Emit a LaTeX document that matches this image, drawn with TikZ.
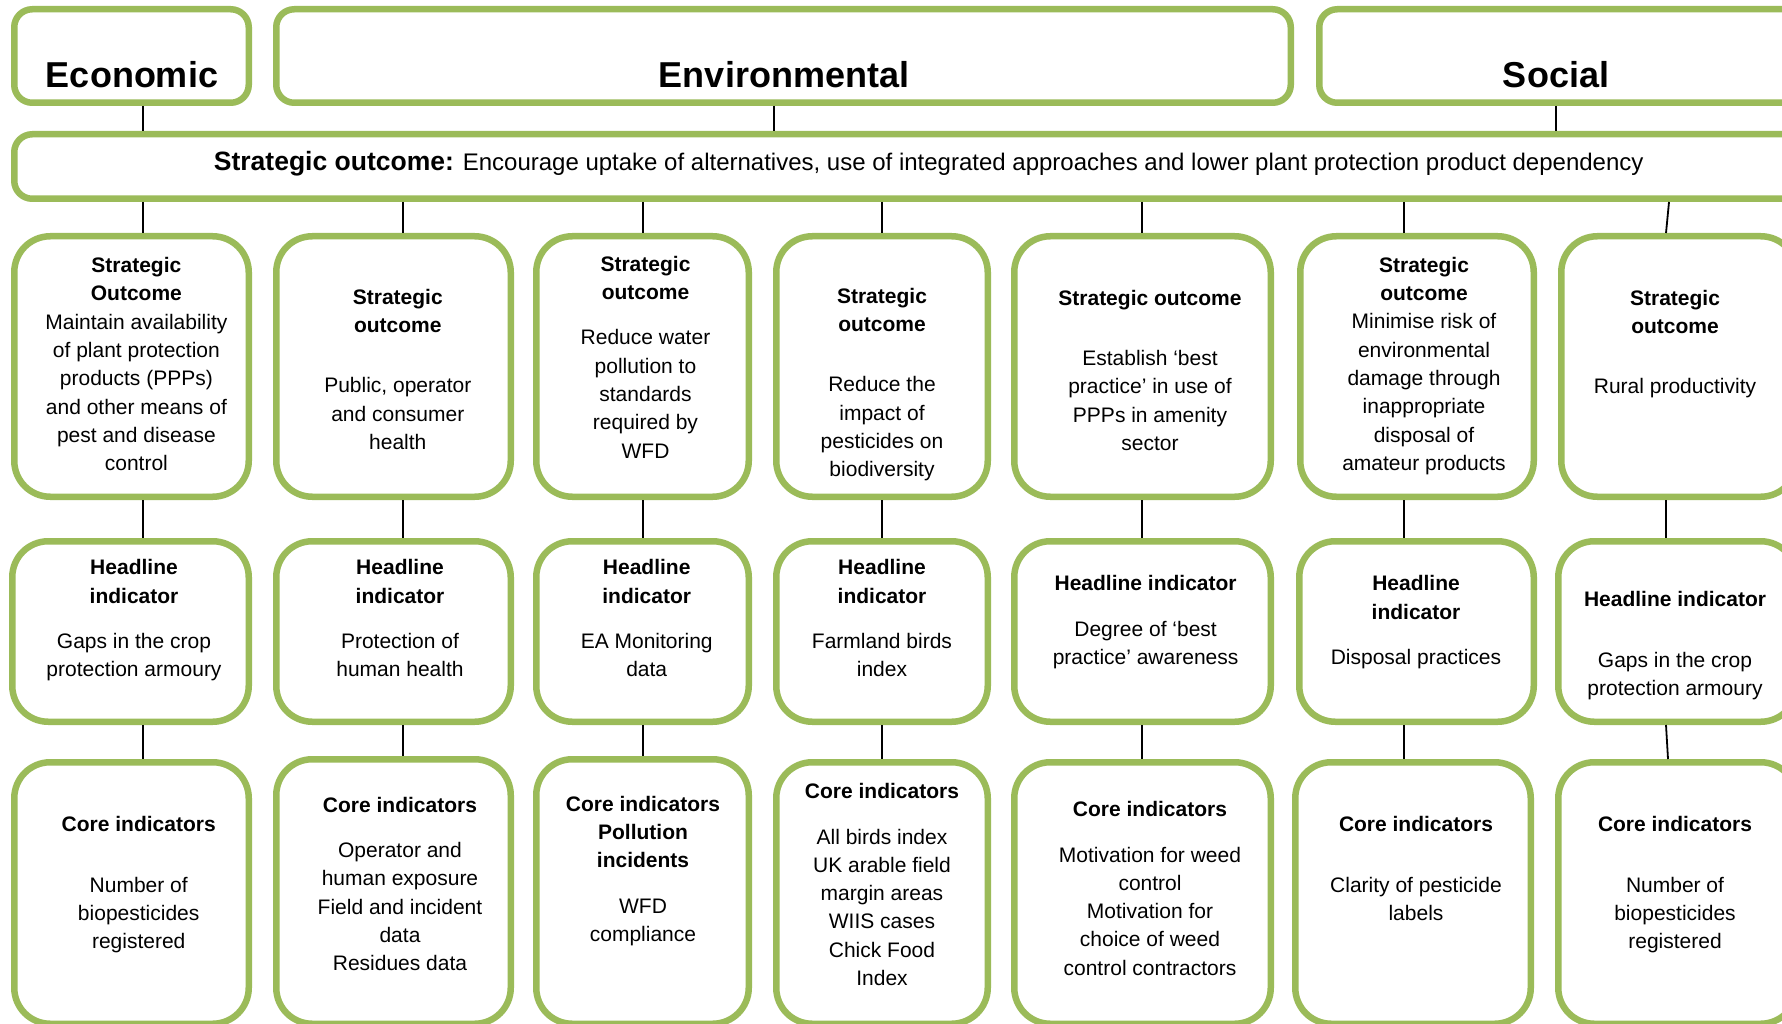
\documentclass[tikz,border=0pt]{standalone}
\usepackage{fontspec}
\setmainfont{Liberation Sans}
\definecolor{gr}{HTML}{9BBB59}
\tikzset{
  headbox/.style={draw=gr, line width=6.5pt, rounded corners=18pt, fill=white, inner sep=0pt},
  gbox/.style={draw=gr, line width=6.5pt, rounded corners=36pt, fill=white, inner sep=0pt},
  txt/.style={align=center, inner sep=0pt, anchor=north, font=\fontsize{21}{28.3}\selectfont},
  headtxt/.style={inner sep=0pt, anchor=base, font=\fontsize{36}{40}\selectfont\bfseries},
  widetxt/.style={inner sep=0pt, anchor=base west, font=\fontsize{24}{30}\selectfont},
  link/.style={draw=black, line width=1.8pt},
}
% style, name, x1, y1, x2, y2 (outer edges, pixels)
\newcommand\mkbox[6]{\node[#1, minimum width={#5-#3-6.5}, minimum height={#6-#4-6.5}] (#2) at ({(#3+#5)/2},{(#4+#6)/2}) {};}
\newcommand\tnode[4]{\node[txt] (#1) at (#2,#3) {\rule{0pt}{17pt}#4};}
\newcommand\B[1]{\textbf{#1}}
\begin{document}
\begin{tikzpicture}[x=1pt,y=-1pt]
\useasboundingbox (0,0) rectangle (1782,1024);
\clip (0,0) rectangle (1782,1024);
\fill[white] (0,0) rectangle (1782,1024);

% top row
\mkbox{headbox}{eco}{11}{6}{252}{106}
\mkbox{headbox}{env}{273}{6}{1294}{106}
\mkbox{headbox}{soc}{1316}{6}{1830}{106}
\node[headtxt] (ecot) at (132,88) {Economic};
\node[headtxt] (envt) at (784,88) {Environmental};
\node[headtxt] (soct) at (1556,88) {Social};

% wide strategic outcome
\mkbox{headbox}{wide}{11}{131}{1830}{202}
\node[widetxt] (widet) at (213.7,171) {{\fontsize{26.5}{30}\selectfont\bfseries Strategic outcome:} Encourage uptake of alternatives, use of integrated approaches and lower plant protection product dependency};

% row 2: strategic outcomes
\mkbox{gbox}{s1}{11}{233}{252}{500}
\mkbox{gbox}{s2}{273}{233}{514}{500}
\mkbox{gbox}{s3}{533}{233}{752}{500}
\mkbox{gbox}{s4}{773}{233}{991}{500}
\mkbox{gbox}{s5}{1011}{233}{1274}{500}
\mkbox{gbox}{s6}{1297}{233}{1537}{500}
\mkbox{gbox}{s7}{1558}{233}{1800}{500}

% row 3: headline indicators
\mkbox{gbox}{h1}{9}{538}{252}{725}
\mkbox{gbox}{h2}{273}{538}{514}{725}
\mkbox{gbox}{h3}{533}{538}{752}{725}
\mkbox{gbox}{h4}{773}{538}{991}{725}
\mkbox{gbox}{h5}{1011}{538}{1274}{725}
\mkbox{gbox}{h6}{1296}{538}{1537}{725}
\mkbox{gbox}{h7}{1555}{538}{1800}{725}

% row 4: core indicators
\mkbox{gbox}{c1}{11}{759}{252}{1027}
\mkbox{gbox}{c2}{273}{756}{514}{1027}
\mkbox{gbox}{c3}{533}{756}{752}{1027}
\mkbox{gbox}{c4}{773}{759}{991}{1027}
\mkbox{gbox}{c5}{1011}{759}{1274}{1027}
\mkbox{gbox}{c6}{1292}{759}{1534}{1027}
\mkbox{gbox}{c7}{1555}{759}{1800}{1027}

% texts row 2
\tnode{s1t}{136.4}{255.3}{\B{Strategic}\\\B{Outcome}\\Maintain availability\\of plant protection\\products (PPPs)\\and other means of\\pest and disease\\control}
\tnode{s2t}{397.8}{287}{\B{Strategic}\\\B{outcome}\\[32pt]Public, operator\\and consumer\\health}
\tnode{s3t}{645.5}{254}{\B{Strategic}\\\B{outcome}\\[17pt]Reduce water\\pollution to\\standards\\required by\\WFD}
\tnode{s4t}{882}{286}{\B{Strategic}\\\B{outcome}\\[32pt]Reduce the\\impact of\\pesticides on\\biodiversity}
\tnode{s5t}{1150}{288}{\B{Strategic outcome}\\[32pt]Establish ‘best\\practice’ in use of\\PPPs in amenity\\sector}
\tnode{s6t}{1424}{255}{\B{Strategic}\\\B{outcome}\\Minimise risk of\\environmental\\damage through\\inappropriate\\disposal of\\amateur products}
\tnode{s7t}{1675}{288}{\B{Strategic}\\\B{outcome}\\[32pt]Rural productivity}

% texts row 3
\tnode{h1t}{134}{557.5}{\B{Headline}\\\B{indicator}\\[17pt]Gaps in the crop\\protection armoury}
\tnode{h2t}{400}{557.5}{\B{Headline}\\\B{indicator}\\[17pt]Protection of\\human health}
\tnode{h3t}{646.7}{557.5}{\B{Headline}\\\B{indicator}\\[17pt]EA Monitoring\\data}
\tnode{h4t}{882}{557.5}{\B{Headline}\\\B{indicator}\\[17pt]Farmland birds\\index}
\tnode{h5t}{1145.6}{573.5}{\B{Headline indicator}\\[17pt]Degree of ‘best\\practice’ awareness}
\tnode{h6t}{1416}{573.5}{\B{Headline}\\\B{indicator}\\[17pt]Disposal practices}
\tnode{h7t}{1675}{589.5}{\B{Headline indicator}\\[32pt]Gaps in the crop\\protection armoury}

% texts row 4
\tnode{c1t}{138.7}{814.5}{\B{Core indicators}\\[32pt]Number of\\biopesticides\\registered}
\tnode{c2t}{400}{795}{\B{Core indicators}\\[17pt]Operator and\\human exposure\\Field and incident\\data\\Residues data}
\tnode{c3t}{643}{794}{\B{Core indicators}\\\B{Pollution}\\\B{incidents}\\[17pt]WFD\\compliance}
\tnode{c4t}{882}{781.5}{\B{Core indicators}\\[17pt]All birds index\\UK arable field\\margin areas\\WIIS cases\\Chick Food\\Index}
\tnode{c5t}{1150}{799.5}{\B{Core indicators}\\[17pt]Motivation for weed\\control\\Motivation for\\choice of weed\\control contractors}
\tnode{c6t}{1416}{814.5}{\B{Core indicators}\\[32pt]Clarity of pesticide\\labels}
\tnode{c7t}{1675}{814.5}{\B{Core indicators}\\[32pt]Number of\\biopesticides\\registered}

% connector x positions
\coordinate (kE) at (143,0);
\coordinate (kV) at (774,0);
\coordinate (kS) at (1556,0);
\coordinate (k1) at (143,0);
\coordinate (k2) at (403,0);
\coordinate (k3) at (643,0);
\coordinate (k4) at (882,0);
\coordinate (k5) at (1142,0);
\coordinate (k6) at (1404,0);
\coordinate (k7a) at (1669,0);
\coordinate (k7b) at (1666,0);
\coordinate (k7c) at (1668,0);

\draw[link] (kE |- eco.south) -- (kE |- wide.north);
\draw[link] (kV |- env.south) -- (kV |- wide.north);
\draw[link] (kS |- soc.south) -- (kS |- wide.north);

\foreach \i in {1,...,6} {
  \draw[link] (k\i |- wide.south) -- (k\i |- s\i.north);
  \draw[link] (k\i |- s\i.south) -- (k\i |- h\i.north);
  \draw[link] (k\i |- h\i.south) -- (k\i |- c\i.north);
}
\draw[link] (k7a |- wide.south) -- (k7b |- s7.north);
\draw[link] (k7b |- s7.south) -- (k7b |- h7.north);
\draw[link] (k7b |- h7.south) -- (k7c |- c7.north);
\end{tikzpicture}
\end{document}
